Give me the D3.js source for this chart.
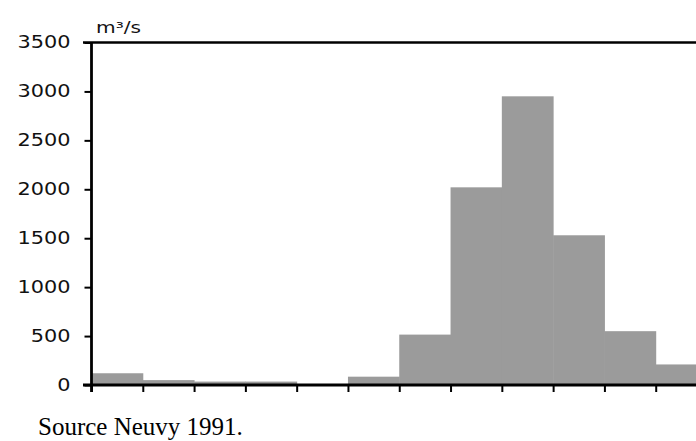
<!DOCTYPE html>
<html>
<head>
<meta charset="utf-8">
<script src="https://cdn.jsdelivr.net/npm/d3@7"></script>
<style>
  html, body { margin: 0; padding: 0; background: #fff; }
  svg { display: block; }
</style>
</head>
<body>
<svg id="chart" width="696" height="441"></svg>
<script>
const months = ["Jan","Feb","Mar","Apr","May","Jun","Jul","Aug","Sep","Oct","Nov","Dec"];
const discharge = [120, 50, 35, 35, 0, 85, 515, 2020, 2950, 1530, 550, 210];
const yTicks = [0, 500, 1000, 1500, 2000, 2500, 3000, 3500];
const unitLabel = "m³/s";
const sourceText = "Source Neuvy 1991.";

const svg = d3.select("#chart");

const x = d3.scaleLinear().domain([0, months.length]).range([91.5, 707]);
const y = d3.scaleLinear().domain([0, 3500]).range([385, 42.5]);

// bars
svg.append("g").selectAll("rect")
  .data(discharge)
  .join("rect")
  .attr("x", (d, i) => x(i))
  .attr("width", (d, i) => x(i + 1) - x(i) + 0.5)
  .attr("y", d => y(d))
  .attr("height", d => y(0) - y(d))
  .attr("fill", d => d > 0 ? "#9b9b9b" : "none");

// top frame line
svg.append("line")
  .attr("x1", 83).attr("x2", 696)
  .attr("y1", y(3500)).attr("y2", y(3500))
  .attr("stroke", "#000").attr("stroke-width", 2.5);

// y axis
const yAxis = d3.axisLeft(y).tickValues(yTicks).tickSize(7).tickPadding(14).tickFormat(d3.format("d"));
const gy = svg.append("g").attr("transform", "translate(91.5,0)").call(yAxis);
gy.select(".domain").attr("stroke-width", 2.8).attr("d", `M0,${y(3500)}V${y(0) + 7}`);
gy.selectAll(".tick line").attr("stroke-width", 2);
gy.selectAll(".tick text")
  .attr("font-family", "'DejaVu Sans', sans-serif")
  .attr("font-size", 17)
  .attr("fill", "#111")
  .attr("lengthAdjust", "spacingAndGlyphs")
  .each(function(d) {
    d3.select(this).attr("textLength", String(d).length * 13.25);
  });

// x axis
const xAxis = d3.axisBottom(x).tickValues(d3.range(0, months.length + 1)).tickSize(7).tickFormat("");
const gx = svg.append("g").attr("transform", `translate(0,${y(0)})`).call(xAxis);
gx.select(".domain").attr("stroke-width", 3).attr("d", "M83,0H696");
gx.selectAll(".tick line").attr("stroke-width", 2);

// unit label
svg.append("text")
  .attr("x", 96).attr("y", 33)
  .attr("font-family", "'DejaVu Sans', sans-serif")
  .attr("font-size", 16)
  .attr("fill", "#111")
  .attr("textLength", 45)
  .attr("lengthAdjust", "spacingAndGlyphs")
  .text(unitLabel);

// source
svg.append("text")
  .attr("x", 38).attr("y", 435)
  .attr("font-family", "'Liberation Serif', 'Times New Roman', serif")
  .attr("font-size", 25)
  .attr("fill", "#000")
  .text(sourceText);
</script>
</body>
</html>
